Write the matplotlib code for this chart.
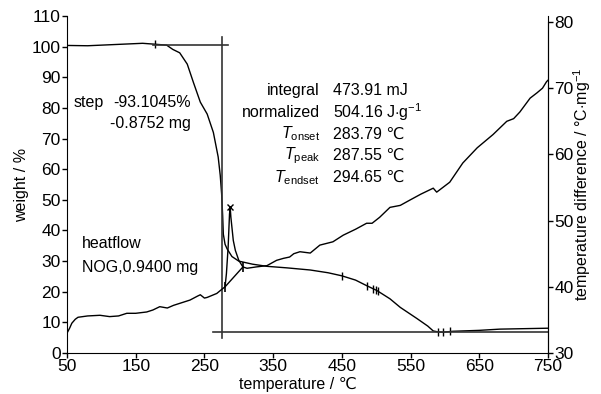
import numpy as np
import matplotlib
matplotlib.use("Agg")
import matplotlib.pyplot as plt

plt.rcParams['font.family'] = ['Liberation Sans', 'DejaVu Sans']
plt.rcParams['mathtext.fontset'] = 'custom'
plt.rcParams['mathtext.rm'] = 'Liberation Sans'
plt.rcParams['mathtext.it'] = 'Liberation Sans:italic'

# TG curve (weight %, left axis)
tg_temp = [50, 80, 120, 160, 178, 195, 204, 214, 225, 234, 244, 254, 263, 270, 273,
           275, 276.5, 277.5, 280, 283, 290, 300, 320, 341, 370, 404, 430, 450, 470,
           486, 501, 520, 535, 559, 575, 583, 590, 597, 612, 650, 680, 750]
tg_weight = [100.4, 100.3, 100.7, 101.1, 100.8, 100.5, 99.1, 98.0, 94.3, 88.3, 81.9, 78.0,
             72.0, 64.0, 58.0, 52.0, 45.0, 38.8, 35.5, 34.0, 31.5, 30.0, 29.0, 28.3, 27.8,
             27.1, 26.2, 25.2, 23.8, 22.0, 20.4, 17.7, 14.9, 11.3, 8.8, 7.2, 6.9, 6.8, 7.1,
             7.4, 7.8, 8.1]

# DSC curve (temperature difference, right axis)
dsc_temp = [50, 54, 57, 62, 66, 80, 98, 112, 125, 137, 150, 166, 175, 185, 196, 205, 214,
            229, 240, 244, 250, 254, 268, 275, 280, 282, 284.5, 286.5, 287.5, 288.5, 290,
            292, 295, 300, 306, 312, 325, 341, 355, 365, 374, 380, 389, 404, 418, 437, 452,
            470, 486, 494, 505, 520, 535, 549, 565, 583, 588, 607, 626, 647, 670, 690, 700,
            709, 724, 734, 742, 748, 750]
dsc_diff = [33.0, 33.8, 34.5, 35.1, 35.4, 35.6, 35.7, 35.5, 35.6, 36.0, 36.0, 36.2, 36.5,
            37.0, 36.8, 37.2, 37.5, 38.0, 38.6, 38.8, 38.3, 38.4, 39.0, 39.6, 40.0, 42.0,
            46.0, 51.0, 52.0, 50.5, 49.0, 47.0, 45.5, 44.0, 43.0, 42.8, 43.0, 43.2, 44.0,
            44.3, 44.5, 45.0, 45.3, 45.1, 46.3, 46.8, 47.8, 48.7, 49.6, 49.6, 50.5, 52.0,
            52.3, 53.1, 54.0, 54.9, 54.3, 55.8, 58.7, 61.0, 63.0, 65.0, 65.4, 66.4, 68.5,
            69.3, 70.0, 71.0, 71.2]

# evaluation markers
tg_mark_temp = [178, 450, 486, 496, 499, 502, 590, 597, 608]
tg_mark_weight = [101.0, 25.2, 22.0, 21.0, 20.6, 20.3, 6.9, 6.8, 7.1]
onset_temp, endset_temp = 280, 306
onset_diff, endset_diff = 40.0, 43.0
peak_temp, peak_diff = 287.55, 52.0

step_upper, step_lower, step_temp = 100.6, 6.8, 275

results_labels = ['integral', 'normalized', r'$\mathit{T}_{\mathrm{onset}}$',
                  r'$\mathit{T}_{\mathrm{peak}}$', r'$\mathit{T}_{\mathrm{endset}}$']
results_values = ['473.91 mJ', r'504.16 J$\cdot$g$^{-1}$', '283.79 ℃', '287.55 ℃', '294.65 ℃']

fig = plt.figure(figsize=(6.01, 3.94), dpi=100)
ax = fig.add_axes([0.1115, 0.104, 0.8003, 0.8553])
ax2 = ax.twinx()

fs = 11.5
ax.plot(tg_temp, tg_weight, color='black', lw=1.0)
ax.plot(tg_mark_temp, tg_mark_weight, ls='none', marker='|', ms=6, color='black', mew=1.0)

# step evaluation lines
ax.plot([175, 284], [step_upper, step_upper], color='#333333', lw=1.2)
ax.plot([263, 750], [step_lower, step_lower], color='#333333', lw=1.2)
ax.plot([step_temp, step_temp], [4.8, 103], color='#333333', lw=1.2)

ax2.plot(dsc_temp, dsc_diff, color='black', lw=1.0)
ax2.plot([onset_temp, endset_temp], [onset_diff, endset_diff], color='black', lw=1.0)
ax2.plot([onset_temp, endset_temp], [onset_diff, endset_diff], ls='none', marker='|',
         ms=7, color='black', mew=1.2)
ax2.plot([peak_temp], [peak_diff], ls='none', marker='x', ms=5, color='black', mew=1.0)

ax.set_xlim(50, 750)
ax.set_ylim(0, 110)
ax.set_xticks(np.arange(50, 751, 100))
ax.set_yticks(np.arange(0, 111, 10))
ax2.set_ylim(30, 80.9)
ax2.set_yticks(np.arange(30, 81, 10))
ax2.spines['right'].set_bounds(30, 80)

for a in (ax, ax2):
    a.spines['top'].set_visible(False)
    a.tick_params(direction='out', length=3.5, width=1, labelsize=fs + 1, pad=1)
ax2.spines['left'].set_visible(False)
ax2.spines['bottom'].set_visible(False)

ax.set_xlabel('temperature / ℃', fontsize=fs)
ax.set_ylabel('weight / %', fontsize=fs, va='center')
ax2.set_ylabel(r'temperature difference / °C$\cdot$mg$^{-1}$', fontsize=fs, va='center')
ax.xaxis.set_label_coords(0.48, -0.07)
ax.xaxis.label.set_va('top')
ax.yaxis.set_label_coords(-0.094, 0.5)
ax2.yaxis.set_label_coords(1.072, 0.5)

ax.text(59, 81.9, 'step', fontsize=fs, va='center')
ax.text(117, 81.9, '-93.1045%', fontsize=fs, va='center')
ax.text(113, 74.8, '-0.8752 mg', fontsize=fs, va='center')
ax.text(72, 35.6, 'heatflow', fontsize=fs, va='center')
ax.text(72, 27.8, 'NOG,0.9400 mg', fontsize=fs, va='center')

rows_y = [85.8, 78.6, 71.5, 64.4, 57.3]
for lab, val, yy in zip(results_labels, results_values, rows_y):
    ax.text(418, yy, lab, fontsize=fs, va='center', ha='right')
    ax.text(437, yy, val, fontsize=fs, va='center', ha='left')

fig.savefig('out.png', dpi=100)
